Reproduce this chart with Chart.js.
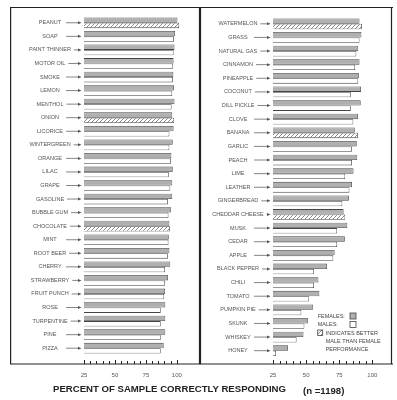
<!DOCTYPE html>
<html>
<head>
<meta charset="utf-8">
<script src="https://cdn.jsdelivr.net/npm/chart.js@4.4.0/dist/chart.umd.min.js"></script>
<style>
body{margin:0;background:#fff;width:397px;height:400px;position:relative;overflow:hidden;font-family:"Liberation Sans",Arial,sans-serif}
#left{position:absolute;left:10px;top:0}
#right{position:absolute;left:200px;top:0}
.title{position:absolute;font-weight:bold;font-size:9.6px;color:#222;white-space:nowrap;line-height:11px}
</style>
</head>
<body>
<canvas id="left" width="190" height="400"></canvas>
<canvas id="right" width="193" height="400"></canvas>
<div class="title" style="left:53px;top:383px">PERCENT OF SAMPLE CORRECTLY RESPONDING</div>
<div class="title" style="left:303px;top:385px">(n =1198)</div>
<script>
// odors, left column
let leftCats = ['PEANUT','SOAP','PAINT THINNER','MOTOR OIL','SMOKE','LEMON','MENTHOL','ONION','LICORICE','WINTERGREEN','ORANGE','LILAC','GRAPE','GASOLINE','BUBBLE GUM','CHOCOLATE','MINT','ROOT BEER','CHERRY','STRAWBERRY','FRUIT PUNCH','ROSE','TURPENTINE','PINE','PIZZA']
let leftFemale = [100.5,98.6,98.1,97.4,97.2,97.7,98.1,96.3,97.4,96.7,95.6,96.7,96.3,96.3,95.4,94.0,93.5,94.0,94.7,92.8,90.5,90.7,90.7,90.7,89.4]
let leftMale = [101.9,97.7,97.4,97.0,96.8,96.3,95.8,97.9,94.0,94.0,95.3,93.5,94.7,92.8,93.3,94.4,93.3,92.8,90.5,90.5,89.8,87.0,87.0,87.0,87.0]

// odors, right column
let rightCats = ['WATERMELON','GRASS','NATURAL GAS','CINNAMON','PINEAPPLE','COCONUT','DILL PICKLE','CLOVE','BANANA','GARLIC','PEACH','LIME','LEATHER','GINGERBREAD','CHEDDAR CHEESE','MUSK','CEDAR','APPLE','BLACK PEPPER','CHILI','TOMATO','PUMPKIN PIE','SKUNK','WHISKEY','HONEY']
let rightFemale = [90.3,91.7,89.3,90.3,89.8,91.4,91.2,89.1,86.7,88.2,88.6,85.8,84.6,82.3,78.3,81.1,79.2,71.5,65.8,59.3,60.0,55.3,51.3,48.0,36.3]
let rightMale = [92.1,90.3,87.9,87.0,89.3,83.7,83.7,85.6,89.1,84.6,84.6,79.5,82.7,77.3,79.5,73.4,73.4,70.5,56.0,56.0,52.3,46.4,48.7,42.8,27.3]

let tickLabels = [25, 50, 75, 100]

const FONT = '"Liberation Sans", Arial, sans-serif'
const femaleFill = '#b0b0b0'
const edge = '#444'

function makeHatch() {
  const c = document.createElement('canvas')
  c.width = 4; c.height = 4
  const g = c.getContext('2d')
  g.fillStyle = '#fff'
  g.fillRect(0, 0, 4, 4)
  g.strokeStyle = '#888'
  g.lineWidth = 1
  g.beginPath()
  g.moveTo(0, 4); g.lineTo(4, 0)
  g.moveTo(-1, 1); g.lineTo(1, -1)
  g.moveTo(3, 5); g.lineTo(5, 3)
  g.stroke()
  return g.createPattern(c, 'repeat')
}
const hatch = makeHatch()

// labels, arrows, frame, tick marks, legend
const panelPlugin = {
  id: 'panel',
  afterDraw(chart, args, o) {
    const ctx = chart.ctx
    const y = chart.scales.y
    const x = chart.scales.x
    const W = chart.width
    ctx.save()
    ctx.font = '5.5px ' + FONT
    ctx.fillStyle = '#555'
    ctx.strokeStyle = '#666'
    ctx.lineWidth = 0.8
    ctx.textAlign = 'center'
    ctx.textBaseline = 'middle'
    chart.data.labels.forEach((lab, i) => {
      const py = y.getPixelForValue(i)
      ctx.fillText(lab, o.labelX, py)
      const w = ctx.measureText(lab).width
      const start = Math.max(o.labelX + 16, o.labelX + w / 2 + 3)
      const end = chart.chartArea.left - 2.5
      ctx.beginPath()
      ctx.moveTo(start, py); ctx.lineTo(end - 3, py)
      ctx.stroke()
      ctx.beginPath()
      ctx.moveTo(end, py); ctx.lineTo(end - 3.5, py - 1.5); ctx.lineTo(end - 3.5, py + 1.5)
      ctx.closePath()
      ctx.fill()
    })

    // frame
    ctx.strokeStyle = '#222'
    ctx.lineWidth = 1.2
    ctx.beginPath()
    ctx.moveTo(0, 7.5); ctx.lineTo(W, 7.5)
    ctx.moveTo(0, 364); ctx.lineTo(W, 364)
    ctx.moveTo(o.vline, 7.5); ctx.lineTo(o.vline, 364)
    ctx.moveTo(o.vline2, 7.5); ctx.lineTo(o.vline2, 364)
    ctx.stroke()

    // little ticks sitting on the bottom edge
    ctx.lineWidth = 1
    ctx.beginPath()
    x.ticks.forEach(t => {
      if (t.value > 100) return
      const px = Math.round(x.getPixelForValue(t.value)) + 0.5
      const len = tickLabels.includes(t.value) ? 4 : 3
      ctx.moveTo(px, 364); ctx.lineTo(px, 364 - len)
    })
    ctx.stroke()

    if (o.legend) {
      ctx.font = '5.5px ' + FONT
      ctx.fillStyle = '#444'
      ctx.textAlign = 'left'
      ctx.fillText('FEMALES:', 117.7, 316)
      ctx.fillText('MALES:', 117.7, 324.5)
      ctx.fillText('INDICATES BETTER', 125.7, 333)
      ctx.fillText('MALE THAN FEMALE', 125.7, 341)
      ctx.fillText('PERFORMANCE', 125.7, 349)
      ctx.lineWidth = 0.8
      ctx.strokeStyle = edge
      ctx.fillStyle = femaleFill
      ctx.fillRect(150, 313, 6, 6); ctx.strokeRect(150, 313, 6, 6)
      ctx.fillStyle = '#fff'
      ctx.fillRect(150, 321.5, 6, 6); ctx.strokeRect(150, 321.5, 6, 6)
      ctx.fillStyle = hatch
      ctx.fillRect(117.7, 330, 5, 5.5); ctx.strokeRect(117.7, 330, 5, 5.5)
    }
    ctx.restore()
  }
}

function buildChart(id, cats, fem, male, o) {
  const ds = (data, bg) => ({
    data: data,
    backgroundColor: bg,
    borderColor: edge,
    borderWidth: 0.8,
    borderSkipped: false,
    categoryPercentage: 0.79,
    barPercentage: 1
  })
  return new Chart(document.getElementById(id), {
    type: 'bar',
    data: {
      labels: cats,
      datasets: [
        Object.assign(ds(fem, femaleFill), { label: 'FEMALES' }),
        Object.assign(ds(male, c => male[c.dataIndex] > fem[c.dataIndex] ? hatch : '#fff'), { label: 'MALES' })
      ]
    },
    options: {
      indexAxis: 'y',
      responsive: false,
      devicePixelRatio: 1,
      animation: false,
      layout: { padding: { left: o.padLeft, right: o.padRight, top: o.padTop, bottom: 0 } },
      scales: {
        x: {
          min: 25, max: 105,
          grid: { display: false, drawTicks: false },
          border: { display: false },
          ticks: {
            stepSize: 5, autoSkip: false, maxRotation: 0, padding: o.tickPad,
            color: '#555', font: { size: 6, family: FONT },
            callback: v => tickLabels.includes(v) ? v : ''
          },
          afterFit: s => { s.height = o.xHeight }
        },
        y: { display: false }
      },
      plugins: {
        legend: { display: false },
        tooltip: { enabled: false },
        panel: o
      }
    },
    plugins: [panelPlugin]
  })
}

buildChart('left', leftCats, leftFemale, leftMale, {
  padLeft: 74, padRight: 2.4, padTop: 16, xHeight: 45, tickPad: 17,
  labelX: 40, vline: 0.6, vline2: 189.5, legend: false
})
buildChart('right', rightCats, rightFemale, rightMale, {
  padLeft: 73, padRight: 6.4, padTop: 17, xHeight: 42.5, tickPad: 14,
  labelX: 38, vline: 0.5, vline2: 191.5, legend: true
})
</script>
</body>
</html>
